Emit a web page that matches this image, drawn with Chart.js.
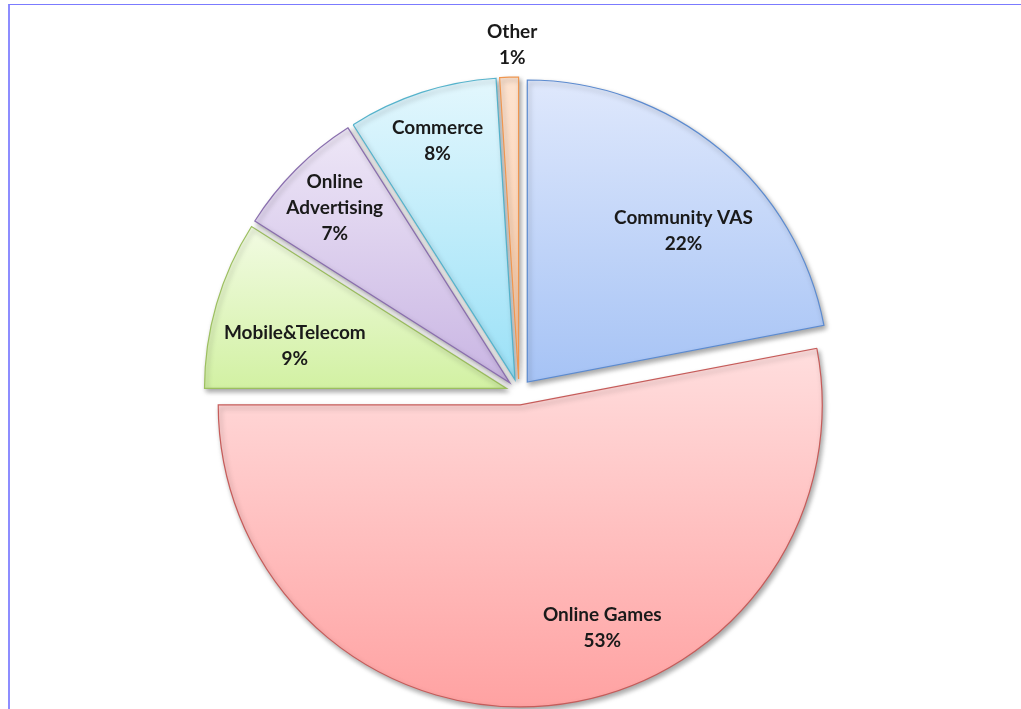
<!DOCTYPE html>
<html>
<head>
<meta charset="utf-8">
<title>Revenue breakdown</title>
<script src="https://cdn.jsdelivr.net/npm/chart.js@4/dist/chart.umd.min.js"></script>
<style>
    html, body { margin: 0; padding: 0; background: #ffffff; overflow: hidden; }
    #wrap { position: absolute; left: 0; top: 0; width: 1021px; height: 709px; }
    #frame {
        position: absolute; left: 8px; top: 4px; right: -4px; bottom: -4px;
        border-top: 1px solid #7b7bff;
        border-left: 2px solid #8d8dff;
    }
    canvas { position: absolute; left: 0; top: 0; }
</style>
</head>
<body>
<div id="wrap">
    <div id="frame"></div>
    <canvas id="pie" width="1021" height="709"></canvas>
</div>
<script>
// Revenue share per business line (%)
const categories = ['Community VAS', 'Online Games', 'Mobile&Telecom', ['Online', 'Advertising'], 'Commerce', 'Other'];
const shares = [22, 53, 9, 7, 8, 1];

// Slice colours: vertical gradient top -> bottom, plus outline
const gradientTop = ['#dfe8fc', '#ffdede', '#f2fbe3', '#eee7f7', '#e3f7fd', '#fde3d0'];
const gradientBottom = ['#a6c3f5', '#ffa2a2', '#d2f1a3', '#c9b5e3', '#9be1f7', '#fbc8a2'];
const borderColors = ['#5c8bd0', '#c65c5a', '#9cbf5f', '#8a6fae', '#55b3cc', '#f0964f'];

const EXPLODE = 13;      // px each slice is pulled out from the centre
const PIE_RADIUS = 302;

// Label placement relative to each slice tip: fraction of radius, angle shift (deg)
const labelRadius = [0.72, 0.787, 0.715, 0.82, 0.83, 1.106];
const labelShift = [6.3, -14.8, -4.8, 0, 0, 0.7];

function angleInside(a, start, end) {
    const TAU = Math.PI * 2;
    let t = a;
    while (t < start) t += TAU;
    while (t > start + TAU) t -= TAU;
    return t <= end;
}

// Pull slices apart and give each one its own vertical gradient
const explodePlugin = {
    id: 'explodeSlices',
    afterDatasetsUpdate(chart) {
        const ctx = chart.ctx;
        const meta = chart.getDatasetMeta(0);
        meta.data.forEach((arc, i) => {
            const mid = (arc.startAngle + arc.endAngle) / 2;
            arc.x += Math.cos(mid) * EXPLODE;
            arc.y += Math.sin(mid) * EXPLODE;

            const r = arc.outerRadius;
            const ys = [arc.y,
                arc.y + Math.sin(arc.startAngle) * r,
                arc.y + Math.sin(arc.endAngle) * r];
            if (angleInside(-Math.PI / 2, arc.startAngle, arc.endAngle)) ys.push(arc.y - r);
            if (angleInside(Math.PI / 2, arc.startAngle, arc.endAngle)) ys.push(arc.y + r);
            const top = Math.min(...ys);
            const bottom = Math.max(...ys);

            const grad = ctx.createLinearGradient(0, top, 0, bottom);
            grad.addColorStop(0, gradientTop[i]);
            grad.addColorStop(1, gradientBottom[i]);
            arc.options = Object.assign({}, arc.options, { backgroundColor: grad });
        });
    },
    beforeDatasetsDraw(chart) {
        const ctx = chart.ctx;
        ctx.save();
        ctx.shadowColor = 'rgba(0, 0, 0, 0.35)';
        ctx.shadowBlur = 5;
        ctx.shadowOffsetX = 2;
        ctx.shadowOffsetY = 3;
    },
    afterDatasetsDraw(chart) {
        chart.ctx.restore();
    }
};

// Category name + percentage printed on each slice
const sliceLabelPlugin = {
    id: 'sliceLabels',
    afterDraw(chart) {
        const ctx = chart.ctx;
        const meta = chart.getDatasetMeta(0);
        ctx.save();
        ctx.font = 'bold 19px Lato, "Open Sans", sans-serif';
        ctx.fillStyle = '#1a1a1a';
        ctx.textAlign = 'center';
        ctx.textBaseline = 'middle';
        meta.data.forEach((arc, i) => {
            const mid = (arc.startAngle + arc.endAngle) / 2 + labelShift[i] * Math.PI / 180;
            const dist = labelRadius[i] * arc.outerRadius;
            const cx = arc.x + Math.cos(mid) * dist;
            const cy = arc.y + Math.sin(mid) * dist;
            const name = chart.data.labels[i];
            const lines = (Array.isArray(name) ? name : [name]).concat(shares[i] + '%');
            const lineH = 26;
            lines.forEach((txt, k) => {
                ctx.fillText(txt, cx, cy + (k - (lines.length - 1) / 2) * lineH);
            });
        });
        ctx.restore();
    }
};

new Chart(document.getElementById('pie'), {
    type: 'pie',
    data: {
        labels: categories,
        datasets: [{
            data: shares,
            backgroundColor: gradientTop,
            borderColor: borderColors,
            borderWidth: 1.2,
            borderJoinStyle: 'miter',
            radius: PIE_RADIUS
        }]
    },
    options: {
        responsive: false,
        animation: false,
        events: [],
        layout: {
            padding: { left: 217, right: 200, top: 90, bottom: 15 }
        },
        plugins: {
            legend: { display: false },
            tooltip: { enabled: false }
        }
    },
    plugins: [explodePlugin, sliceLabelPlugin]
});
</script>
</body>
</html>
